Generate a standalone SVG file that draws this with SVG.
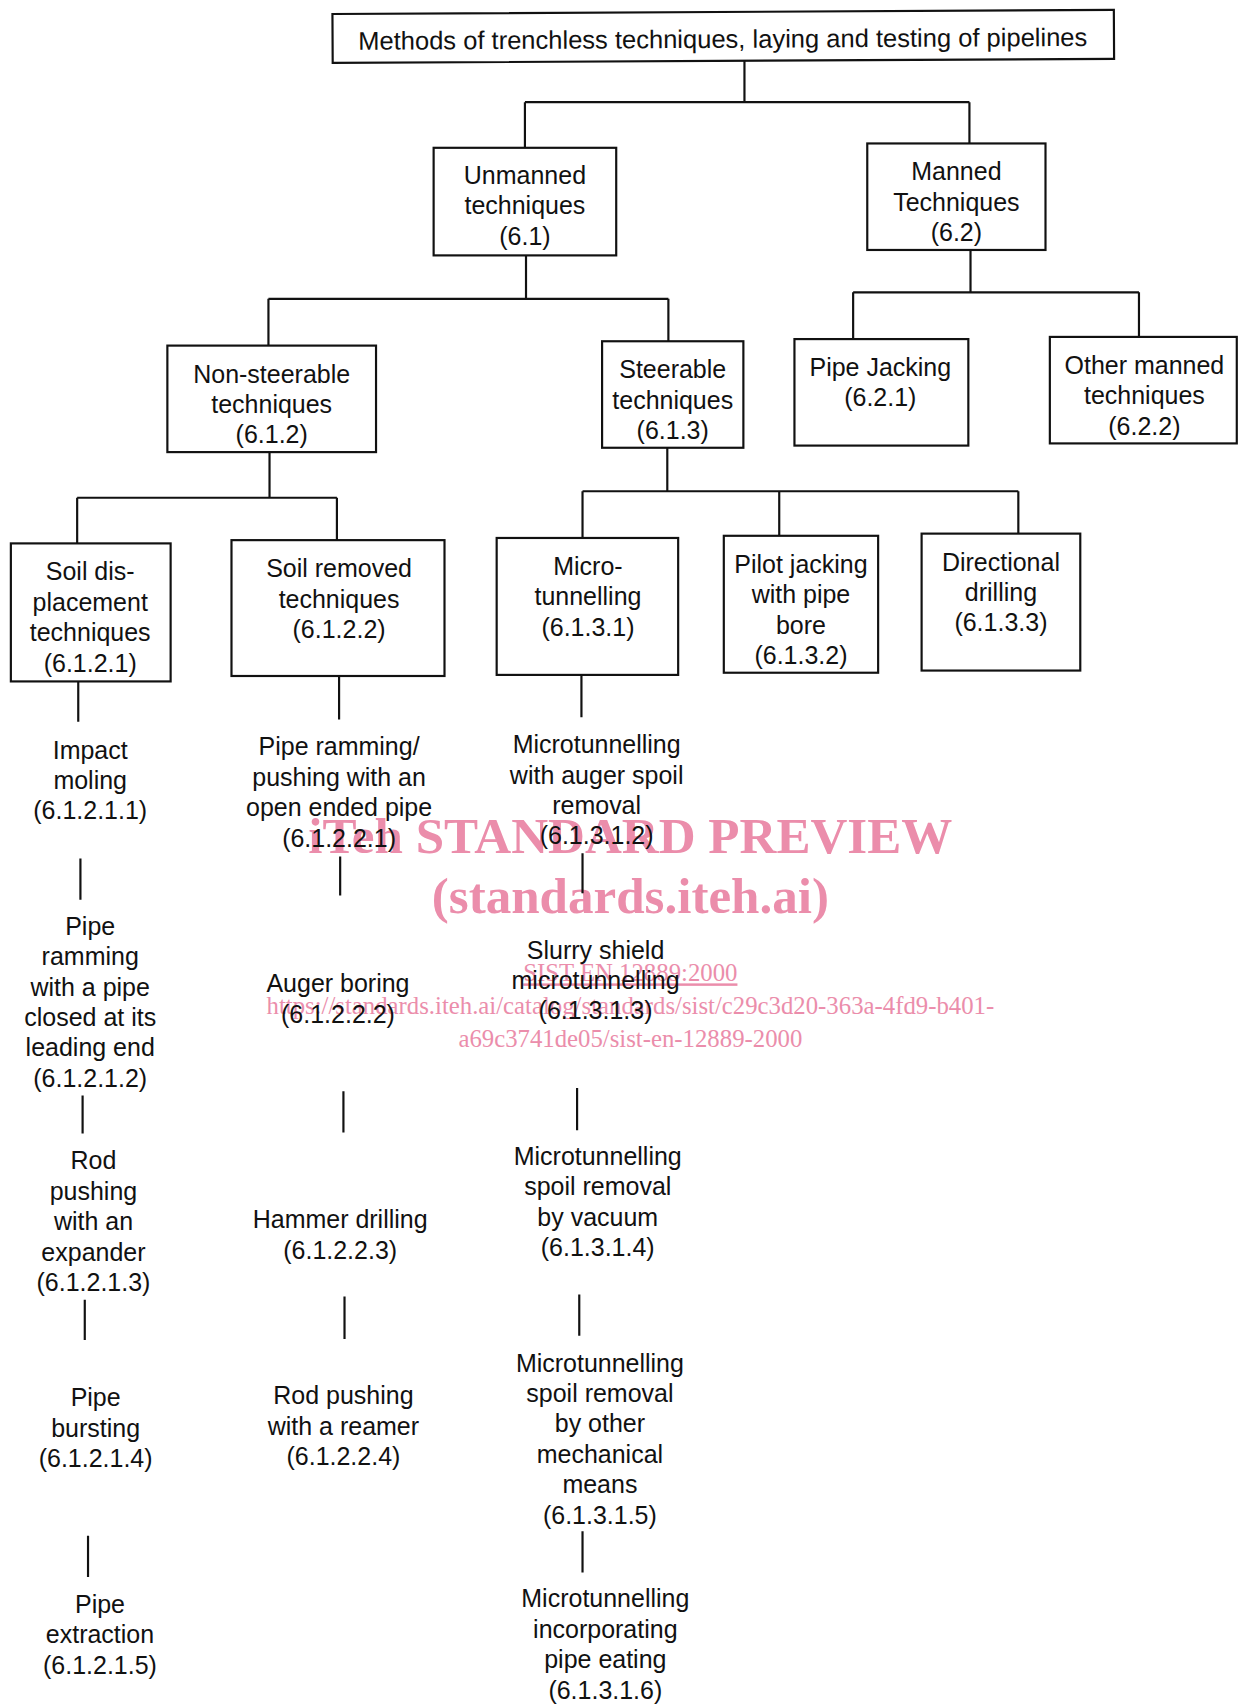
<svg xmlns="http://www.w3.org/2000/svg" width="1239" height="1706" viewBox="0 0 1239 1706">
<style>
.box{fill:none;stroke:#111;stroke-width:2}
.ln{fill:none;stroke:#111;stroke-width:2}
.t{font-family:"Liberation Sans",Arial,Helvetica,sans-serif;font-size:23px;fill:#111;text-anchor:middle}
.tt{font-size:23.5px}
.wm{font-family:"Liberation Serif","Times New Roman",serif;fill:#eb8dab;text-anchor:middle}
.wb{font-weight:bold;font-size:47px}
.wr{font-size:22.8px}
</style>
<rect width="1239" height="1706" fill="#fff"/>
<g transform="scale(1.0868)">
<g id="watermark">
<text class="wm wb" x="580" y="785">iTeh STANDARD PREVIEW</text>
<text class="wm wb" x="580" y="840">(standards.iteh.ai)</text>
<text class="wm wr" x="580" y="903" text-decoration="underline">SIST EN 12889:2000</text>
<text class="wm wr" x="580" y="933">https://standards.iteh.ai/catalog/standards/sist/c29c3d20-363a-4fd9-b401-</text>
<text class="wm wr" x="580" y="963">a69c3741de05/sist-en-12889-2000</text>
</g>
<g id="connectors">
<path class="ln" d="M685,56V94M483,94H892M483,94V136M892,94V132"/>
<path class="ln" d="M484,235V275M247,275H615M247,275V318M615,275V314"/>
<path class="ln" d="M893,230V269M785,269H1048M785,269V312M1048,269V310"/>
<path class="ln" d="M248,416V458M71,458H310M71,458V500M310,458V497"/>
<path class="ln" d="M614,412V452M536,452H937M536,452V495M717,452V493M937,452V491"/>
<path class="ln" d="M72,627V664M74,790V828M76,1008V1043M78,1196V1233M81,1413V1451"/>
<path class="ln" d="M312,622V662M313,788V824M316,1004V1042M317,1193V1232"/>
<path class="ln" d="M535,621V660M536,785V822M531,1001V1040M533,1191V1229M536,1409V1447"/>
</g>
<g id="title" transform="rotate(-0.3 665 33)">
<rect class="box" x="306" y="11" width="719" height="45"/>
<text class="t tt" x="665" y="44">Methods of trenchless techniques, laying and testing of pipelines</text>
</g>
<g id="unmanned">
<rect class="box" x="399" y="136" width="168" height="99"/>
<text class="t" x="483" y="169">Unmanned<tspan x="483" dy="28">techniques</tspan><tspan x="483" dy="28">(6.1)</tspan></text>
</g>
<g id="manned">
<rect class="box" x="798" y="132" width="164" height="98"/>
<text class="t" x="880" y="166">Manned<tspan x="880" dy="28">Techniques</tspan><tspan x="880" dy="28">(6.2)</tspan></text>
</g>
<g id="nonsteerable">
<rect class="box" x="154" y="318" width="192" height="98"/>
<text class="t" x="250" y="352">Non-steerable<tspan x="250" dy="28">techniques</tspan><tspan x="250" dy="28">(6.1.2)</tspan></text>
</g>
<g id="steerable">
<rect class="box" x="554" y="314" width="130" height="98"/>
<text class="t" x="619" y="348">Steerable<tspan x="619" dy="28">techniques</tspan><tspan x="619" dy="28">(6.1.3)</tspan></text>
</g>
<g id="pipejacking">
<rect class="box" x="731" y="312" width="160" height="98"/>
<text class="t" x="810" y="346">Pipe Jacking<tspan x="810" dy="28">(6.2.1)</tspan></text>
</g>
<g id="othermanned">
<rect class="box" x="966" y="310" width="172" height="98"/>
<text class="t" x="1053" y="344">Other manned<tspan x="1053" dy="28">techniques</tspan><tspan x="1053" dy="28">(6.2.2)</tspan></text>
</g>
<g id="soildisplacement">
<rect class="box" x="10" y="500" width="147" height="127"/>
<text class="t" x="83" y="534">Soil dis-<tspan x="83" dy="28">placement</tspan><tspan x="83" dy="28">techniques</tspan><tspan x="83" dy="28">(6.1.2.1)</tspan></text>
</g>
<g id="soilremoved">
<rect class="box" x="213" y="497" width="196" height="125"/>
<text class="t" x="312" y="531">Soil removed<tspan x="312" dy="28">techniques</tspan><tspan x="312" dy="28">(6.1.2.2)</tspan></text>
</g>
<g id="microtunnelling">
<rect class="box" x="457" y="495" width="167" height="126"/>
<text class="t" x="541" y="529">Micro-<tspan x="541" dy="28">tunnelling</tspan><tspan x="541" dy="28">(6.1.3.1)</tspan></text>
</g>
<g id="pilotjacking">
<rect class="box" x="666" y="493" width="142" height="126"/>
<text class="t" x="737" y="527">Pilot jacking<tspan x="737" dy="28">with pipe</tspan><tspan x="737" dy="28">bore</tspan><tspan x="737" dy="28">(6.1.3.2)</tspan></text>
</g>
<g id="directional">
<rect class="box" x="848" y="491" width="146" height="126"/>
<text class="t" x="921" y="525">Directional<tspan x="921" dy="28">drilling</tspan><tspan x="921" dy="28">(6.1.3.3)</tspan></text>
</g>
<g id="n61211"><text class="t" x="83" y="698">Impact<tspan x="83" dy="28">moling</tspan><tspan x="83" dy="28">(6.1.2.1.1)</tspan></text></g>
<g id="n61212"><text class="t" x="83" y="860">Pipe<tspan x="83" dy="28">ramming</tspan><tspan x="83" dy="28">with a pipe</tspan><tspan x="83" dy="28">closed at its</tspan><tspan x="83" dy="28">leading end</tspan><tspan x="83" dy="28">(6.1.2.1.2)</tspan></text></g>
<g id="n61213"><text class="t" x="86" y="1076">Rod<tspan x="86" dy="28">pushing</tspan><tspan x="86" dy="28">with an</tspan><tspan x="86" dy="28">expander</tspan><tspan x="86" dy="28">(6.1.2.1.3)</tspan></text></g>
<g id="n61214"><text class="t" x="88" y="1294">Pipe<tspan x="88" dy="28">bursting</tspan><tspan x="88" dy="28">(6.1.2.1.4)</tspan></text></g>
<g id="n61215"><text class="t" x="92" y="1484">Pipe<tspan x="92" dy="28">extraction</tspan><tspan x="92" dy="28">(6.1.2.1.5)</tspan></text></g>
<g id="n61221"><text class="t" x="312" y="695">Pipe ramming/<tspan x="312" dy="28">pushing with an</tspan><tspan x="312" dy="28">open ended pipe</tspan><tspan x="312" dy="28">(6.1.2.2.1)</tspan></text></g>
<g id="n61222"><text class="t" x="311" y="913">Auger boring<tspan x="311" dy="28">(6.1.2.2.2)</tspan></text></g>
<g id="n61223"><text class="t" x="313" y="1130">Hammer drilling<tspan x="313" dy="28">(6.1.2.2.3)</tspan></text></g>
<g id="n61224"><text class="t" x="316" y="1292">Rod pushing<tspan x="316" dy="28">with a reamer</tspan><tspan x="316" dy="28">(6.1.2.2.4)</tspan></text></g>
<g id="n61312"><text class="t" x="549" y="693">Microtunnelling<tspan x="549" dy="28">with auger spoil</tspan><tspan x="549" dy="28">removal</tspan><tspan x="549" dy="28">(6.1.3.1.2)</tspan></text></g>
<g id="n61313"><text class="t" x="548" y="882">Slurry shield<tspan x="548" dy="28">microtunnelling</tspan><tspan x="548" dy="28">(6.1.3.1.3)</tspan></text></g>
<g id="n61314"><text class="t" x="550" y="1072">Microtunnelling<tspan x="550" dy="28">spoil removal</tspan><tspan x="550" dy="28">by vacuum</tspan><tspan x="550" dy="28">(6.1.3.1.4)</tspan></text></g>
<g id="n61315"><text class="t" x="552" y="1262">Microtunnelling<tspan x="552" dy="28">spoil removal</tspan><tspan x="552" dy="28">by other</tspan><tspan x="552" dy="28">mechanical</tspan><tspan x="552" dy="28">means</tspan><tspan x="552" dy="28">(6.1.3.1.5)</tspan></text></g>
<g id="n61316"><text class="t" x="557" y="1479">Microtunnelling<tspan x="557" dy="28">incorporating</tspan><tspan x="557" dy="28">pipe eating</tspan><tspan x="557" dy="28">(6.1.3.1.6)</tspan></text></g>
</g>
</svg>
